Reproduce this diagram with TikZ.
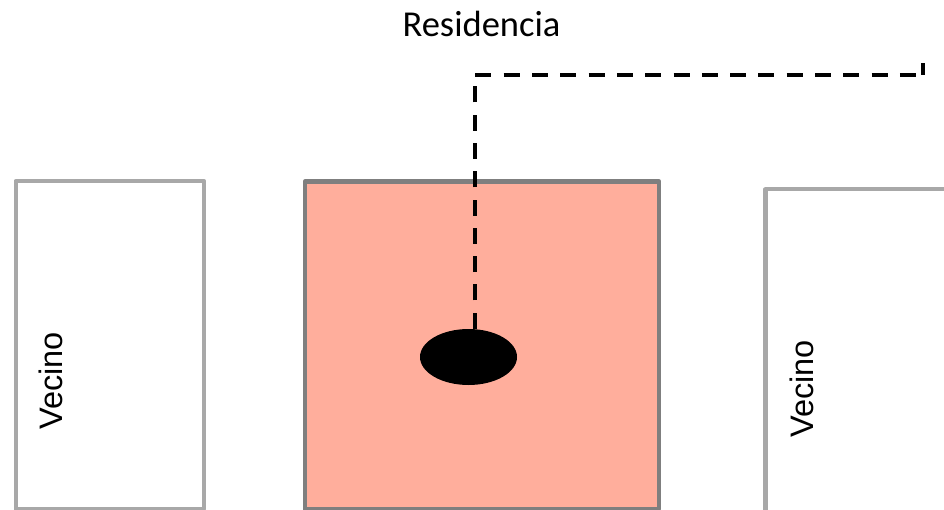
\documentclass[tikz,border=0pt]{standalone}
\usepackage{fontspec}
\setmainfont{Liberation Sans}
\newfontfamily\calib{Carlito}
\usetikzlibrary{shapes.geometric}
\definecolor{nbgray}{RGB}{168,168,168}
\definecolor{resgray}{RGB}{127,127,127}
\definecolor{salmon}{RGB}{255,174,156}
\tikzset{
  nbbox/.style={draw=nbgray, line width=4.2pt, fill=white, rectangle, inner sep=0pt, anchor=north west, line join=round},
  resbox/.style={draw=resgray, line width=4.2pt, fill=salmon, rectangle, inner sep=0pt, anchor=north west, line join=round},
  nblabel/.style={rotate=90, anchor=base, inner sep=0pt, font=\fontsize{32.5}{36}\selectfont},
  dashline/.style={line width=4pt, dash pattern=on 16pt off 12.3pt},
}
\begin{document}
\begin{tikzpicture}[x=1pt,y=-1pt]
\useasboundingbox (0,0) rectangle (944,510);
\clip (0,0) rectangle (944,510);
\fill[white] (0,0) rectangle (944,510);
% neighbours and residence
\node[nbbox, minimum width=188.5pt, minimum height=328pt] (v1) at (13.5,179) {};
\node[nbbox, minimum width=220pt, minimum height=340pt] (v2) at (763.3,187.3) {};
\node[resbox, minimum width=354.5pt, minimum height=327.5pt] (res) at (302.5,179.5) {};
% labels
\node[nblabel] (t1) at (62,381) {Vecino};
\node[nblabel] (t2) at (813,389) {Vecino};
\node[inner sep=0pt, anchor=base, font=\calib\fontsize{36.5}{40}\selectfont] (title) at (481.5,37) {Residencia};
% device
\node[ellipse, fill=black, draw=none, minimum width=97pt, minimum height=56pt, inner sep=0pt] (dev) at (468.5,357) {};
% cable
\coordinate (bend) at (474.5,75);
\coordinate (endp) at (922.7,75);
\coordinate (tip) at (922.7,63);
\draw[dashline] (dev.north -| bend) -- (bend) -- (endp);
\draw[line width=4pt] (endp) -- (tip);
\end{tikzpicture}
\end{document}
